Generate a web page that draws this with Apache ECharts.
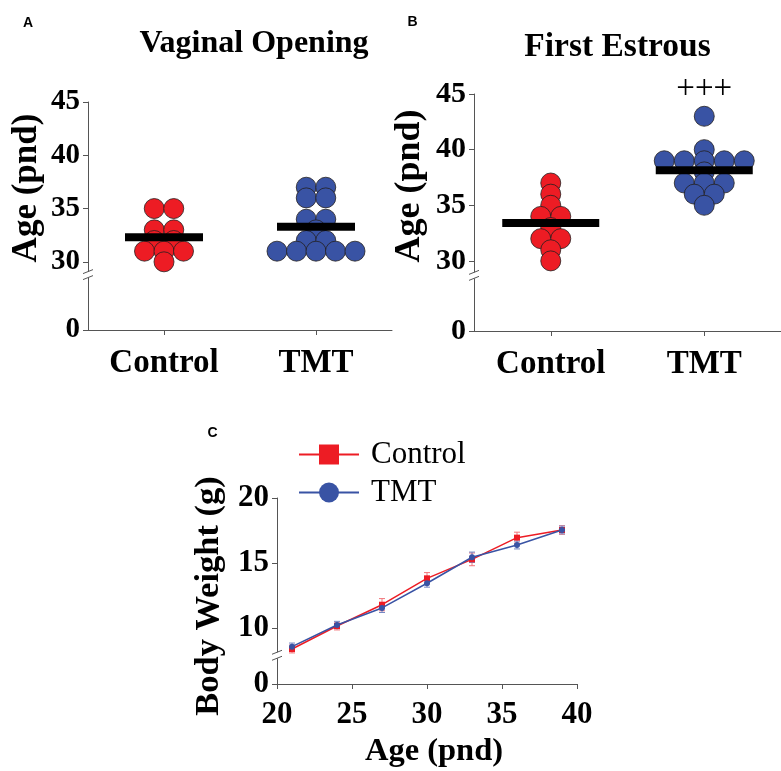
<!DOCTYPE html>
<html><head><meta charset="utf-8">
<script src="https://cdn.jsdelivr.net/npm/echarts@6/dist/echarts.min.js"></script>
<style>html,body{margin:0;padding:0;background:#fff}#c{width:781px;height:771px}</style>
</head><body><div id="c"></div>
<script>
// ---------- data ----------
const groups = ['Control', 'TMT'];
const vaginalControl = [35, 35, 33, 33, 32, 32, 31, 31, 31, 30];
const vaginalTMT = [37, 37, 36, 36, 34, 34, 33, 32, 32, 31, 31, 31, 31, 31];
const estrousControl = [37, 36, 35, 34, 34, 33, 32, 32, 31, 30];
const estrousTMT = [43, 40, 39, 39, 39, 39, 39, 38, 37, 37, 37, 36, 36, 35];
const ageTicks = [0, 30, 35, 40, 45];
const weightAges = [21, 24, 27, 30, 33, 36, 39];
const weightControl = [8.38, 10.15, 11.79, 13.82, 15.28, 16.95, 17.54];
const weightControlErr = [0.3, 0.3, 0.47, 0.44, 0.49, 0.42, 0.33];
const weightTMT = [8.56, 10.23, 11.54, 13.44, 15.44, 16.38, 17.54];
const weightTMTErr = [0.28, 0.28, 0.35, 0.3, 0.4, 0.3, 0.3];
const weightTicks = [0, 10, 15, 20];
const ageXTicks = [20, 25, 30, 35, 40];

// ---------- helpers ----------
const SERIF = '"Liberation Serif", "Times New Roman", serif';
const SANS = '"Liberation Sans", Arial, sans-serif';
const RED = '#ED1C24', BLUE = '#3953A4', AXIS = '#555';
const zeroA = 23.6, zeroB = 23.7, zeroC = 5.69;   // where "0" sits below the axis break
const breakA = 28.8, breakB = 28.7, breakC = 7.9;

function mean(a) { return a.reduce((s, v) => s + v, 0) / a.length; }
function swarm(vals, gx, spacing) {
  const counts = {}, seen = {};
  vals.forEach(v => counts[v] = (counts[v] || 0) + 1);
  return vals.map(v => {
    const n = counts[v], i = (seen[v] = (seen[v] || 0)); seen[v]++;
    return { value: [gx, v], symbolOffset: [(i - (n - 1) / 2) * spacing, 0] };
  });
}
function brokenY(zero, ticks, max, grid, fs) {
  const vals = ticks.map(v => v === 0 ? zero : v);
  return {
    type: 'value', gridIndex: grid, min: zero, max: max,
    axisLine: { show: true, onZero: false, lineStyle: { color: AXIS, width: 1 } },
    axisTick: { show: true, length: 5, lineStyle: { color: AXIS }, customValues: vals },
    axisLabel: { customValues: vals, formatter: v => (Math.abs(v - zero) < 1e-6 ? '0' : String(Math.round(v))),
      fontFamily: SERIF, fontWeight: 'bold', fontSize: fs, color: '#000', margin: 8 },
    splitLine: { show: false }
  };
}
function groupX(grid) {
  return {
    type: 'value', gridIndex: grid, min: 0.5, max: 2.5,
    axisLine: { show: true, onZero: false, lineStyle: { color: AXIS, width: 1 } },
    axisTick: { show: true, length: 5, lineStyle: { color: AXIS }, customValues: [1, 2] },
    axisLabel: { customValues: [1, 2], formatter: v => groups[Math.round(v) - 1],
      fontFamily: SERIF, fontWeight: 'bold', fontSize: 33, color: '#000', margin: 17 },
    splitLine: { show: false }
  };
}
function dots(vals, gx, grid, color, spacing) {
  return { type: 'scatter', xAxisIndex: grid, yAxisIndex: grid, symbol: 'circle', symbolSize: 20,
    data: swarm(vals, gx, spacing), clip: false,
    itemStyle: { color: color, borderColor: '#231F20', borderWidth: 0.8, opacity: 1 } };
}
function meanBar(a, b, grid, w) {
  return { type: 'custom', xAxisIndex: grid, yAxisIndex: grid, z: 10,
    data: [[1, mean(a)], [2, mean(b)]],
    renderItem: (p, api) => {
      const c = api.coord([api.value(0), api.value(1)]);
      return { type: 'rect', shape: { x: c[0] - w / 2, y: c[1] - 4, width: w, height: 8 }, style: { fill: '#000' } };
    } };
}
function errBars(vals, errs, color) {
  return { type: 'custom', xAxisIndex: 2, yAxisIndex: 2, z: 3,
    data: weightAges.map((a, i) => [a, vals[i], errs[i]]),
    renderItem: (p, api) => {
      const x = api.value(0), y = api.value(1), e = api.value(2);
      const t = api.coord([x, y + e]), b = api.coord([x, y - e]);
      const st = { stroke: color, lineWidth: 1 };
      return { type: 'group', children: [
        { type: 'line', shape: { x1: t[0], y1: t[1], x2: b[0], y2: b[1] }, style: st },
        { type: 'line', shape: { x1: t[0] - 3, y1: t[1], x2: t[0] + 3, y2: t[1] }, style: st },
        { type: 'line', shape: { x1: b[0] - 3, y1: b[1], x2: b[0] + 3, y2: b[1] }, style: st }
      ] };
    } };
}

const chart = echarts.init(document.getElementById('c'));
chart.setOption({
  animation: false,
  grid: [
    { left: 88, top: 102, width: 304, height: 228 },
    { left: 474, top: 94, width: 316, height: 237 },
    { left: 277, top: 498, width: 300, height: 186 }
  ],
  xAxis: [
    groupX(0), groupX(1),
    { type: 'value', gridIndex: 2, min: 20, max: 40, interval: 5,
      axisLine: { show: true, onZero: false, lineStyle: { color: AXIS, width: 1 } },
      axisTick: { show: true, length: 5, lineStyle: { color: AXIS }, customValues: ageXTicks },
      axisLabel: { customValues: ageXTicks, fontFamily: SERIF, fontWeight: 'bold', fontSize: 31, color: '#000', margin: 15 },
      splitLine: { show: false } }
  ],
  yAxis: [
    brokenY(zeroA, ageTicks, 45, 0, 29),
    brokenY(zeroB, ageTicks, 45, 1, 30),
    brokenY(zeroC, weightTicks, 20, 2, 31)
  ],
  legend: { data: ['Control', 'TMT'], orient: 'vertical', left: 293, top: 434, itemWidth: 60, itemHeight: 25,
    itemGap: 7, textStyle: { fontFamily: SERIF, fontSize: 31, color: '#000', padding: [0, 0, 0, 7] } },
  series: [
    dots(vaginalControl, 1, 0, RED, 19.5),
    dots(vaginalTMT, 2, 0, BLUE, 19.5),
    meanBar(vaginalControl, vaginalTMT, 0, 78),
    dots(estrousControl, 1, 1, RED, 20),
    dots(estrousTMT, 2, 1, BLUE, 20),
    meanBar(estrousControl, estrousTMT, 1, 97),
    errBars(weightControl, weightControlErr, '#F2747A'),
    errBars(weightTMT, weightTMTErr, '#7688C4'),
    { name: 'Control', type: 'line', xAxisIndex: 2, yAxisIndex: 2, z: 4, symbol: 'rect', symbolSize: 6,
      data: weightAges.map((a, i) => [a, weightControl[i]]), itemStyle: { color: RED }, lineStyle: { color: RED, width: 1.5 } },
    { name: 'TMT', type: 'line', xAxisIndex: 2, yAxisIndex: 2, z: 5, symbol: 'circle', symbolSize: 6,
      data: weightAges.map((a, i) => [a, weightTMT[i]]), itemStyle: { color: BLUE }, lineStyle: { color: BLUE, width: 1.5 } }
  ]
});

// ---------- texts & axis-break marks ----------
function txt(x, y, text, font, rot) {
  return { type: 'text', x: x, y: y, rotation: rot || 0, z: 20,
    style: { text: text, font: font, fill: '#000', textAlign: 'center', textVerticalAlign: 'middle' } };
}
function breakMark(grid, yv) {
  const p = chart.convertToPixel({ gridIndex: grid }, [grid === 2 ? 20 : 0.5, yv]);
  const x = p[0], y = p[1];
  return [
    { type: 'rect', z: 20, shape: { x: x - 2, y: y - 3, width: 4, height: 6 }, style: { fill: '#fff' } },
    { type: 'line', z: 21, shape: { x1: x - 5, y1: y - 1, x2: x + 5, y2: y - 5 }, style: { stroke: AXIS, lineWidth: 1 } },
    { type: 'line', z: 21, shape: { x1: x - 5, y1: y + 5, x2: x + 5, y2: y + 1 }, style: { stroke: AXIS, lineWidth: 1 } }
  ];
}
const plus = chart.convertToPixel({ gridIndex: 1 }, [2, 45.4]);
chart.setOption({
  graphic: [
    txt(254, 44, 'Vaginal Opening', 'bold 32px ' + SERIF),
    txt(617.5, 47, 'First Estrous', 'bold 33.5px ' + SERIF),
    txt(28, 23, 'A', 'bold 14px ' + SANS),
    txt(412.5, 22, 'B', 'bold 14px ' + SANS),
    txt(212.5, 433, 'C', 'bold 14px ' + SANS),
    txt(27, 188, 'Age (pnd)', 'bold 35px ' + SERIF, Math.PI / 2),
    txt(410, 186, 'Age (pnd)', 'bold 36px ' + SERIF, Math.PI / 2),
    txt(209, 596, 'Body Weight (g)', 'bold 34.5px ' + SERIF, Math.PI / 2),
    txt(434, 752, 'Age (pnd)', 'bold 32.5px ' + SERIF),
    txt(plus[0], plus[1], '+++', '33px ' + SERIF)
  ].concat(breakMark(0, breakA), breakMark(1, breakB), breakMark(2, breakC))
});
</script></body></html>
